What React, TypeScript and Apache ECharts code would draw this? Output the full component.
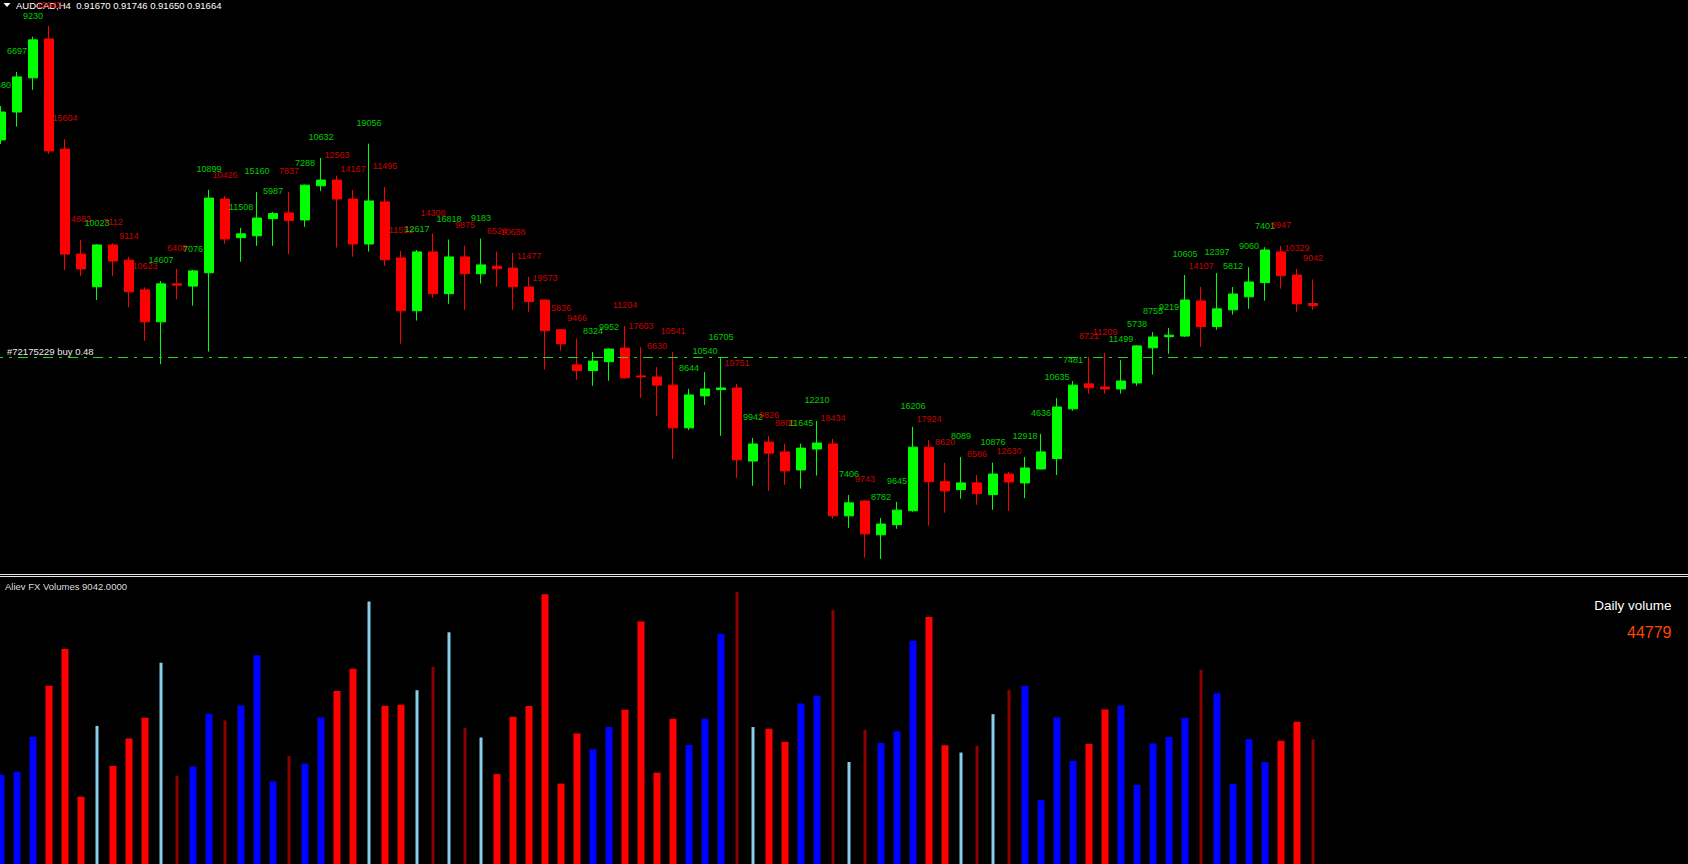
import React, { useEffect, useRef } from "react";
import * as echarts from "echarts";

// ---- Data (AUDCAD H4) ----
const opens = [
  0.92187, 0.92275, 0.92383, 0.92506, 0.92158, 0.91826, 0.91723, 0.91855, 0.91807, 0.91713,
  0.91612, 0.91732, 0.91725, 0.91767, 0.92000, 0.91878, 0.91884, 0.91938, 0.91956, 0.91934,
  0.92042, 0.92060, 0.92000, 0.91858, 0.91991, 0.91814, 0.91647, 0.91833, 0.91701, 0.91817,
  0.91764, 0.91788, 0.91782, 0.91722, 0.91681, 0.91587, 0.91476, 0.91458, 0.91486, 0.91529,
  0.91441, 0.91438, 0.91412, 0.91277, 0.91378, 0.91398, 0.91403, 0.91172, 0.91232, 0.91201,
  0.91144, 0.91210, 0.91226, 0.90999, 0.91046, 0.90939, 0.90971, 0.91015, 0.91216, 0.91107,
  0.91082, 0.91103, 0.91066, 0.91131, 0.91103, 0.91147, 0.91180, 0.91337, 0.91416, 0.91406,
  0.91400, 0.91419, 0.91530, 0.91565, 0.91567, 0.91678, 0.91597, 0.91650, 0.91691, 0.91736,
  0.91833, 0.91760, 0.91670,
];
const closes = [
  0.92275, 0.92386, 0.92503, 0.92152, 0.91826, 0.91779, 0.91855, 0.91804, 0.91707, 0.91612,
  0.91732, 0.91728, 0.91773, 0.92003, 0.91874, 0.91890, 0.91940, 0.91954, 0.91932, 0.92044,
  0.92060, 0.92000, 0.91858, 0.91994, 0.91808, 0.91647, 0.91833, 0.91701, 0.91817, 0.91764,
  0.91792, 0.91780, 0.91723, 0.91676, 0.91584, 0.91543, 0.91458, 0.91488, 0.91526, 0.91435,
  0.91438, 0.91412, 0.91277, 0.91381, 0.91400, 0.91403, 0.91176, 0.91226, 0.91197, 0.91141,
  0.91213, 0.91229, 0.90999, 0.91040, 0.90942, 0.90973, 0.91017, 0.91216, 0.91107, 0.91078,
  0.91103, 0.91069, 0.91131, 0.91106, 0.91150, 0.91201, 0.91343, 0.91412, 0.91404, 0.91400,
  0.91425, 0.91536, 0.91564, 0.91570, 0.91681, 0.91597, 0.91653, 0.91700, 0.91738, 0.91839,
  0.91758, 0.91669, 0.91664,
];
const lows = [
  0.92174, 0.92229, 0.92345, 0.92142, 0.91776, 0.91757, 0.91681, 0.91757, 0.91658, 0.91552,
  0.91478, 0.91683, 0.91663, 0.91518, 0.91859, 0.91802, 0.91852, 0.91852, 0.91826, 0.91912,
  0.92025, 0.91847, 0.91818, 0.91834, 0.91789, 0.91543, 0.91616, 0.91688, 0.91669, 0.91650,
  0.91733, 0.91723, 0.91650, 0.91644, 0.91461, 0.91521, 0.91429, 0.91410, 0.91426, 0.91433,
  0.91372, 0.91315, 0.91179, 0.91270, 0.91349, 0.91252, 0.91119, 0.91094, 0.91078, 0.91097,
  0.91085, 0.91126, 0.90990, 0.90961, 0.90867, 0.90863, 0.90958, 0.91012, 0.90968, 0.91009,
  0.91053, 0.91034, 0.91018, 0.91015, 0.91055, 0.91146, 0.91128, 0.91331, 0.91385, 0.91385,
  0.91385, 0.91410, 0.91445, 0.91511, 0.91564, 0.91533, 0.91587, 0.91635, 0.91653, 0.91679,
  0.91717, 0.91644, 0.91650,
];
const highs = [
  0.92294, 0.92402, 0.92513, 0.92547, 0.92189, 0.91871, 0.91857, 0.91860, 0.91817, 0.91721,
  0.91741, 0.91779, 0.91776, 0.92029, 0.92010, 0.91909, 0.92022, 0.91959, 0.92022, 0.92046,
  0.92130, 0.92074, 0.92029, 0.92175, 0.92038, 0.91836, 0.91839, 0.91891, 0.91872, 0.91853,
  0.91875, 0.91834, 0.91830, 0.91754, 0.91683, 0.91589, 0.91559, 0.91517, 0.91528, 0.91599,
  0.91532, 0.91469, 0.91517, 0.91400, 0.91453, 0.91498, 0.91416, 0.91245, 0.91252, 0.91227,
  0.91227, 0.91299, 0.91242, 0.91065, 0.91048, 0.90992, 0.91043, 0.91280, 0.91239, 0.91166,
  0.91185, 0.91128, 0.91167, 0.91138, 0.91185, 0.91258, 0.91371, 0.91425, 0.91501, 0.91514,
  0.91491, 0.91538, 0.91580, 0.91593, 0.91760, 0.91722, 0.91766, 0.91722, 0.91785, 0.91848,
  0.91852, 0.91779, 0.91746,
];
const volumes = [
  6480, 6697, 9230, 12945, 15604, 4883, 10023, 7112, 9114, 10623,
  14607, 6408, 7076, 10899, 10426, 11508, 15160, 5987, 7837, 7288,
  10632, 12563, 14167, 19056, 11495, 11552, 12617, 14308, 16818, 9875,
  9183, 6524, 10688, 11477, 19573, 5836, 9466, 8324, 9952, 11204,
  17603, 6630, 10541, 8644, 10540, 16705, 19751, 9942, 9826, 8866,
  11645, 12210, 18434, 7406, 9743, 8782, 9645, 16206, 17924, 8620,
  8089, 8586, 10876, 12630, 12918, 4636, 10635, 7481, 8721, 11209,
  11499, 5738, 8755, 9219, 10605, 14107, 12397, 5812, 9060, 7401,
  8947, 10329, 9042,
];
// R = red, B = blue, L = light blue (thin), D = dark red (thin)
const volumeColors = [
  "B", "B", "B", "R", "R", "R", "L", "R", "R", "R",
  "L", "D", "B", "B", "D", "B", "B", "B", "D", "B",
  "B", "R", "R", "L", "R", "R", "L", "D", "L", "D",
  "L", "R", "R", "R", "R", "R", "R", "B", "B", "R",
  "R", "R", "R", "B", "B", "B", "D", "L", "R", "R",
  "B", "B", "D", "L", "D", "B", "B", "B", "R", "R",
  "L", "D", "L", "D", "B", "B", "B", "B", "R", "R",
  "B", "B", "B", "B", "B", "D", "B", "B", "B", "B",
  "R", "R", "D",
];
const symbolTitle = "AUDCAD,H4";
const lastQuote = ["0.91670", "0.91746", "0.91650", "0.91664"];
const orderPrice = 0.91499;
const orderLabel = "#72175229 buy 0.48";
const indicatorName = "Aliev FX Volumes";
const dailyVolumeTitle = "Daily volume";
const dailyVolume = 44779;

const SLOT_COUNT = 106;
const FONT = '"Liberation Sans", Arial, sans-serif';
const SHIFT = 7.5; // chart canvas starts 7.5px left of the page so the first candle is half cut

export default function App() {
  const ref = useRef<HTMLDivElement>(null);

  useEffect(() => {
    if (!ref.current) return;
    const chart = echarts.init(ref.current, null, { renderer: "svg" });
    const UP = "#00FF00";
    const DOWN = "#FF0000";
    const colorMap: Record<string, string> = {
      R: "#FF0000",
      B: "#0000FF",
      L: "#87CEEB",
      D: "#8B0000",
    };
    const slots = Array.from({ length: SLOT_COUNT }, (_, i) => String(i));
    const candleData = opens.map((o, i) => [o, closes[i], lows[i], highs[i]]);
    const labelData = highs.map((h, i) => ({
      value: [i, h],
      label: { color: closes[i] >= opens[i] ? UP : DOWN },
    }));
    const wideBars = volumes.map((v, i) =>
      volumeColors[i] === "R" || volumeColors[i] === "B"
        ? { value: v, itemStyle: { color: colorMap[volumeColors[i]] } }
        : "-"
    );
    const thinBars = volumes.map((v, i) =>
      volumeColors[i] === "L" || volumeColors[i] === "D"
        ? { value: v, itemStyle: { color: colorMap[volumeColors[i]] } }
        : "-"
    );
    const last = volumes.length - 1;

    chart.setOption({
      animation: false,
      backgroundColor: "#000000",
      grid: [
        { left: 0, top: 0, width: 1696, height: 572 },
        { left: 0, top: 578, width: 1696, height: 286 },
      ],
      xAxis: [
        { type: "category", data: slots, gridIndex: 0, show: false },
        { type: "category", data: slots, gridIndex: 1, show: false },
        { type: "category", data: slots, gridIndex: 1, show: false },
      ],
      yAxis: [
        { type: "value", gridIndex: 0, min: 0.908215, max: 0.92629, show: false, splitLine: { show: false } },
        { type: "value", gridIndex: 1, min: 0, max: 20760, show: false, splitLine: { show: false } },
      ],
      series: [
        {
          type: "candlestick",
          xAxisIndex: 0,
          yAxisIndex: 0,
          barWidth: 10,
          data: candleData,
          itemStyle: {
            color: UP,
            color0: DOWN,
            borderColor: UP,
            borderColor0: DOWN,
            borderWidth: 1,
          },
        },
        {
          type: "scatter",
          xAxisIndex: 0,
          yAxisIndex: 0,
          symbolSize: 1,
          itemStyle: { color: "transparent" },
          data: labelData,
          z: 3,
          label: {
            show: true,
            position: "top",
            distance: 16,
            fontSize: 9,
            fontFamily: FONT,
            formatter: (p: any) => String(volumes[p.dataIndex]),
          },
          markLine: {
            silent: true,
            precision: 5,
            symbol: ["none", "none"],
            data: [{ yAxis: orderPrice }],
            lineStyle: { color: "#1ED81E", width: 1, type: [10, 6, 3, 6] },
            label: {
              show: true,
              position: "insideStartTop",
              formatter: orderLabel,
              color: "#E8E8E8",
              fontSize: 9.5,
              fontFamily: FONT,
              distance: 1,
              padding: [0, 0, 0, 13],
            },
          },
        },
        {
          type: "bar",
          xAxisIndex: 1,
          yAxisIndex: 1,
          barWidth: 7,
          data: wideBars,
        },
        {
          type: "bar",
          xAxisIndex: 2,
          yAxisIndex: 1,
          barWidth: 3,
          data: thinBars,
        },
      ],
      graphic: [
        {
          type: "polygon",
          z: 1,
          shape: { points: [[3 + SHIFT, 3], [10 + SHIFT, 3], [6.5 + SHIFT, 7]] },
          style: { fill: "#FFFFFF" },
        },
        {
          type: "text",
          z: 1,
          x: 15.5 + SHIFT,
          y: 5,
          style: {
            text: `${symbolTitle}  ${lastQuote.join(" ")}`,
            fill: "#FFFFFF",
            font: `9.5px ${FONT}`,
            verticalAlign: "middle",
          },
        },
        {
          type: "line",
          shape: { x1: 0, y1: 574.5, x2: 1700, y2: 574.5 },
          style: { stroke: "#E6E6E6", lineWidth: 1 },
        },
        {
          type: "line",
          shape: { x1: 0, y1: 576.5, x2: 1700, y2: 576.5 },
          style: { stroke: "#E6E6E6", lineWidth: 1 },
        },
        {
          type: "text",
          x: 4.5 + SHIFT,
          y: 586,
          style: {
            text: `${indicatorName} ${volumes[last].toFixed(4)}`,
            fill: "#DDDDDD",
            font: `9.5px ${FONT}`,
            verticalAlign: "middle",
          },
        },
        {
          type: "text",
          x: 1671 + SHIFT,
          y: 605,
          style: {
            text: dailyVolumeTitle,
            fill: "#FFFFFF",
            font: `13.5px ${FONT}`,
            align: "right",
            verticalAlign: "middle",
          },
        },
        {
          type: "text",
          x: 1671 + SHIFT,
          y: 632,
          style: {
            text: String(dailyVolume),
            fill: "#FF4500",
            font: `16px ${FONT}`,
            align: "right",
            verticalAlign: "middle",
          },
        },
      ],
    });

    return () => chart.dispose();
  }, []);

  return (
    <div style={{ position: "fixed", left: 0, top: 0, width: 1688, height: 864, overflow: "hidden", background: "#000000" }}>
      <div
        ref={ref}
        style={{
          position: "absolute",
          left: -SHIFT,
          top: 0,
          width: 1696,
          height: 864,
          background: "#000000",
        }}
      />
    </div>
  );
}
